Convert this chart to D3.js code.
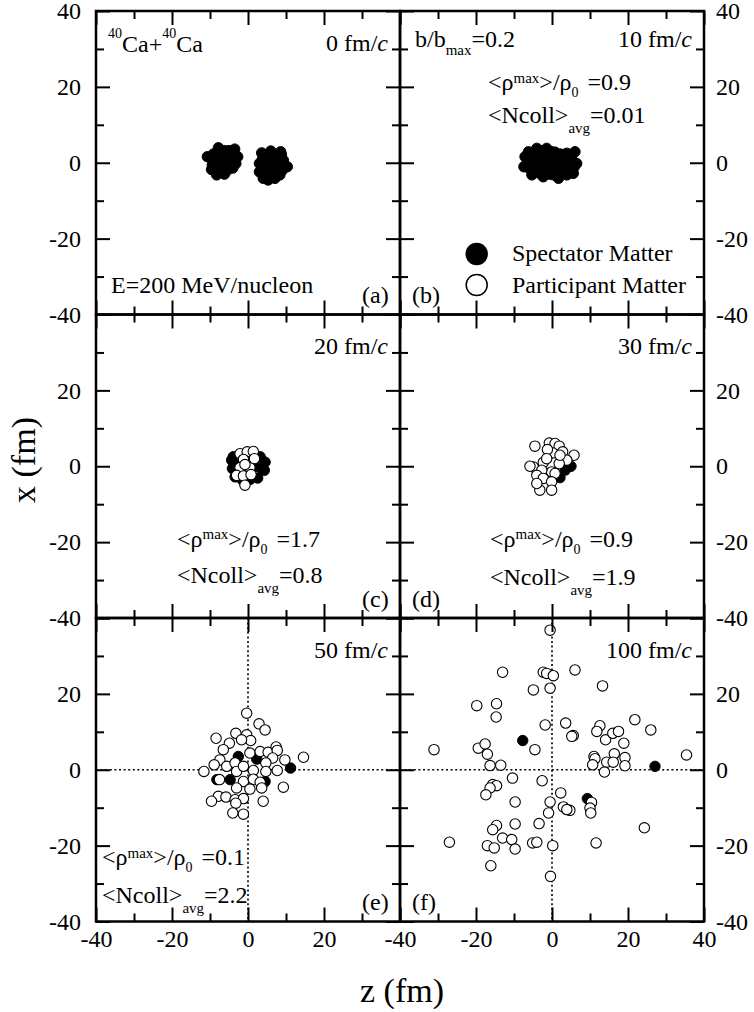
<!DOCTYPE html>
<html><head><meta charset="utf-8">
<script src="https://cdn.jsdelivr.net/npm/d3@7"></script>
<style>body{margin:0;background:#fff} svg{display:block} text{font-family:'Liberation Serif','Times New Roman',Times,serif}</style>
</head><body><svg id="chart" width="754" height="1012"></svg>
<script>
// ---------- data ----------
const majorTicks = [-40, -20, 0, 20, 40];
const minorTicks = [-30, -10, 10, 30];
const timeLabels = ["0", "10", "20", "30", "50", "100"];
const panelLetters = ["(a)", "(b)", "(c)", "(d)", "(e)", "(f)"];
const rhoValues = [null, "0.9", "1.7", "0.9", "0.1", null];
const ncollValues = [null, "0.01", "0.8", "1.9", "2.2", null];
const legendLabels = ["Spectator Matter", "Participant Matter"];

// [z, x] in fm
const specA = [[-10.7,1.6],[-2.7,1.6],[-7.8,3.95],[-3.5,3.6],[-8.25,-3.2],[-4.0,-1.4],[-5.4,-1.9],[-9.4,-0.6],[-9.1,2.3],[-6.7,1.4],[-5.6,-0.2],[-7.4,-0.6],[-4.7,0.7],[-8.2,0.7],[-6.5,-1.5],[-5.2,2.3],[-6.2,3.2],[-9.6,-1.8],[-7.0,-2.4],[-3.2,-0.2],[-8.7,-1.9],
  [-7.5,-1.2],[-5.8,1.0],[-4.2,-0.6],[-8.5,2.0],[-6.2,-3.0],[-3.8,2.4],[-9.0,0.3],[-5.0,3.2],
  [3.6,2.6],[6.0,3.1],[8.6,2.9],[10.35,-1.05],[9.3,0.7],[5.3,-4.55],[3.0,-2.4],[3.0,-0.2],[8.4,-3.2],[7.1,-4.1],[6.2,0.7],[7.5,-1.05],[4.9,-1.05],[6.6,-2.4],[4.9,1.2],[8.0,1.6],[4.0,-4.1],
  [5.8,-1.5],[7.6,0.2],[5.5,2.0],[9.0,-2.0],[3.8,1.0],[6.5,-3.5],[8.8,2.2],[4.2,-3.0]];
const partA = [];
const specB = [[-7.1,1.6],[-7.4,-1.05],[-5.3,-3.2],[-3.2,-2.8],[-1.4,3.8],[-4.0,3.8],[-6.2,2.9],[-0.1,2.9],[-3.2,0.7],[-4.9,-0.6],[-1.0,-1.05],[1.2,1.6],[2.1,-1.9],[1.7,-4.1],[3.9,-3.2],[5.6,-2.8],[6.5,-0.2],[6.05,2.9],[3.9,2.5],[3.4,-0.2],[0.35,-3.2],[-2.3,-3.7],[4.3,-1.05],[-2.5,2.0],[0.5,0.3],
  [-5.5,0.5],[-2.0,1.5],[-1.5,-2.0],[0.0,1.0],[1.5,-0.5],[2.5,1.0],[5.0,0.5],[4.5,-2.5],[-6.0,-1.5],[-4.5,2.0],[-2.8,3.2],[-0.8,-3.0],[2.8,-2.8],[5.2,1.8],[0.8,2.8],[-3.8,-1.8],[1.0,-2.2],[-0.5,-0.3],[-6.5,0.0],[-2.5,-0.8],[2.2,2.3],[5.8,-1.2]];
const partB = [];
const specC = [[-4.3,1.6],[-4.1,-0.6],[4.5,1.1],[4.3,-1.05],[2.55,-3.1],[-3.4,-2.8],[1.0,3.3],[3.2,2.5],[-3.9,2.5],[0.5,-3.5],[-1.5,-3.6],[2.0,0.0],[-2.0,0.5],[3.5,-0.5],[-3.0,0.3]];
const partC = [[-2.1,3.3],[-0.2,3.8],[1.4,3.9],[-1.2,1.8],[-2.1,-0.35],[0.5,-0.35],[-0.8,0.45],[-3.0,-2.4],[-1.2,-2.55],[0.8,-2.2],[-0.8,-5.0],[1.7,2.0]];
const specD = [[5.0,0.0],[2.1,-3.0],[3.5,-1.0]];
const partD = [[-4.5,5.3],[-0.7,6.1],[0.8,6.0],[1.9,5.3],[0.2,3.5],[2.8,3.8],[-1.2,4.4],[5.8,2.9],[3.9,1.6],[-2.3,1.0],[1.9,0.7],[-4.9,-0.2],[-5.8,0.0],[-0.1,-1.5],[-2.7,-1.05],[-4.0,-2.4],[-2.3,-3.2],[0.8,-1.9],[-0.1,-4.1],[-3.2,-6.3],[-0.1,-6.3],[-4.0,-4.55],[2.1,2.9],[-1.4,2.0]];
const specE = [[-2.55,3.5],[2.3,2.8],[11.2,0.45],[-4.7,-2.6],[-8.2,-2.6],[4.5,-3.1]];
const partE = [[-0.35,14.9],[2.9,12.1],[4.5,10.5],[-8.4,8.3],[-3.2,9.6],[-0.35,9.2],[0.7,7.7],[-1.7,7.9],[-4.9,7.0],[-6.5,5.3],[0.5,4.4],[3.2,4.8],[5.3,4.6],[7.4,6.0],[7.7,5.1],[6.5,3.1],[9.7,2.6],[14.6,3.3],[-7.4,2.6],[-8.9,1.3],[-11.6,-0.45],[-5.6,0.9],[-3.4,1.8],[-3.0,-0.45],[-1.2,0.9],[1.4,-0.2],[4.7,1.8],[4.7,-0.45],[7.7,-0.2],[-7.5,-2.6],[-1.2,-3.1],[1.4,-2.5],[3.2,-3.3],[3.6,-4.8],[0.5,-5.1],[-3.0,-4.8],[9.3,-4.6],[-7.8,-7.0],[-5.8,-7.2],[-9.6,-8.3],[-3.4,-7.9],[-1.2,-7.6],[-3.2,-8.8],[4.0,-8.3],[-4.0,-11.4],[-1.2,-11.7]];
const specF = [[-7.7,7.7],[27.1,0.9],[9.3,-7.6]];
const partF = [[-0.5,36.8],[-13,25.7],[-2.3,25.7],[-1.4,25.4],[0.35,24.8],[6.05,26.3],[-4.9,21.05],[-0.5,21.5],[13.3,22.1],[-19.8,16.9],[-14.6,17.4],[-14.7,13.9],[-1.8,11.8],[3.6,12.3],[5.6,9.0],[5.2,8.8],[12.6,11.6],[11.8,10.1],[14.1,7.9],[16.0,9.6],[17.5,10.1],[21.8,13.2],[26.0,10.5],[18.9,7.0],[16.4,4.2],[19.2,3.2],[11.05,3.5],[11.3,2.9],[10.7,1.3],[14.4,2.0],[16.1,2.0],[19.2,1.05],[13.8,-0.6],[35.4,3.9],[-31.05,5.3],[-19.4,5.7],[-17.6,6.8],[-17.0,4.1],[-16.3,1.1],[-13.5,1.2],[-4.5,5.3],[-10.4,-2.2],[-2.6,-2.9],[-15.6,-3.9],[-14.6,-4.2],[-16.3,-4.8],[-17.4,-6.6],[-9.7,-8.5],[2.3,-6.1],[-0.5,-8.5],[3.0,-9.8],[4.7,-10.7],[3.9,-10.5],[-0.9,-11.4],[10.4,-8.6],[10.0,-10.1],[10.2,-11.4],[-9.7,-14.3],[-14.6,-14.7],[-15.6,-15.8],[-3.4,-14.2],[24.3,-15.3],[-27.0,-19.1],[-13.0,-18.0],[-10.6,-18.4],[-17.0,-20.0],[-15.2,-20.6],[-9.7,-20.9],[-5.1,-19.3],[-4.0,-19.1],[0.2,-20.0],[11.6,-19.3],[-16.1,-25.3],[-0.4,-28.1]];
const spectators = [specA, specB, specC, specD, specE, specF];
const participants = [partA, partB, partC, partD, partE, partF];

// ---------- layout ----------
const FONT = "'Liberation Serif','Times New Roman',Times,serif";
const colX = [96, 400], rowY = [11, 314.5, 618], W = 304, H = 303.5;
const svg = d3.select("#chart").attr("font-family", FONT);
const zs = d3.scaleLinear().domain([-40, 40]).range([0, W]);
const xs = d3.scaleLinear().domain([-40, 40]).range([H, 0]);
const R = 5.2;

function txt(g) {
  return g.append("text").attr("font-family", FONT).style("font-family", FONT).attr("fill", "#000");
}
function rich(g, x, y, parts, anchor) {
  const t = txt(g).attr("x", x).attr("y", y)
    .attr("text-anchor", anchor || "start").attr("font-size", 24);
  let cur = 0;
  parts.forEach(p => {
    const sp = t.append("tspan").text(p.t);
    const s = p.s || 0;
    sp.attr("dy", s - cur); cur = s;
    if (p.fs) sp.attr("font-size", p.fs);
    if (p.i) sp.attr("font-style", "italic");
    if (p.dx) sp.attr("dx", p.dx);
  });
  return t;
}
function styleAxis(sel, w) {
  sel.select(".domain").remove();
  sel.attr("font-family", FONT);
  sel.selectAll(".tick line").attr("stroke", "#000").attr("stroke-width", w);
  sel.selectAll("text").attr("font-family", FONT).style("font-family", FONT).attr("font-size", 24).attr("fill", "#000");
}
const fmt = d => String(d);

for (let i = 0; i < 6; i++) {
  const c = i % 2, r = Math.floor(i / 2);
  const g = svg.append("g").attr("transform", `translate(${colX[c]},${rowY[r]})`);

  // dotted reference lines for late times
  if (i >= 4) {
    g.append("line").attr("x1", zs(0)).attr("x2", zs(0)).attr("y1", 0).attr("y2", H)
      .attr("stroke", "#000").attr("stroke-width", 1.6).attr("stroke-dasharray", "2,2.6");
    g.append("line").attr("x1", 0).attr("x2", W).attr("y1", xs(0)).attr("y2", xs(0))
      .attr("stroke", "#000").attr("stroke-width", 1.6).attr("stroke-dasharray", "2,2.6");
  }

  // points: spectators below, participants above
  g.append("g").selectAll("circle").data(spectators[i]).join("circle")
    .attr("cx", d => zs(d[0])).attr("cy", d => xs(d[1])).attr("r", R)
    .attr("fill", "#000").attr("stroke", "#000").attr("stroke-width", 1);
  g.append("g").selectAll("circle").data(participants[i]).join("circle")
    .attr("cx", d => zs(d[0])).attr("cy", d => xs(d[1])).attr("r", R)
    .attr("fill", "#fff").attr("stroke", "#000").attr("stroke-width", 1.1);

  // ticks (inward) on all four sides
  [[d3.axisBottom(zs), `translate(0,${H})`], [d3.axisTop(zs), "translate(0,0)"],
   [d3.axisLeft(xs), "translate(0,0)"], [d3.axisRight(xs), `translate(${W},0)`]].forEach(([ax, tr]) => {
    const a1 = g.append("g").attr("transform", tr)
      .call(ax.tickValues(majorTicks).tickSize(-14).tickSizeOuter(0).tickFormat(""));
    styleAxis(a1, 2);
    const a2 = g.append("g").attr("transform", tr)
      .call(ax.tickValues(minorTicks).tickSize(-8).tickSizeOuter(0).tickFormat(""));
    styleAxis(a2, 2);
  });

  // tick labels
  const yVals = r === 0 ? majorTicks : majorTicks.filter(v => v !== 40);
  if (c === 0) {
    const al = g.append("g").call(d3.axisLeft(xs).tickValues(yVals).tickSize(0).tickPadding(15).tickFormat(fmt));
    styleAxis(al, 0);
  } else {
    const ar = g.append("g").attr("transform", `translate(${W},0)`)
      .call(d3.axisRight(xs).tickValues(yVals).tickSize(0).tickPadding(12).tickFormat(fmt));
    styleAxis(ar, 0);
  }
  if (r === 2) {
    const zVals = c === 0 ? majorTicks.filter(v => v !== 40) : majorTicks;
    const ab = g.append("g").attr("transform", `translate(0,${H})`)
      .call(d3.axisBottom(zs).tickValues(zVals).tickSize(0).tickPadding(8.5).tickFormat(fmt));
    styleAxis(ab, 0);
  }

  // frame
  g.append("rect").attr("x", 0).attr("y", 0).attr("width", W).attr("height", H)
    .attr("fill", "none").attr("stroke", "#000").attr("stroke-width", 2.5);

  // time label
  const tY = (i === 1) ? 35.7 : 39.8;
  rich(g, W - 12, tY, [{ t: timeLabels[i] + " fm/" }, { t: "c", i: true }], "end");
  // panel letter
  txt(g).attr("x", c === 0 ? W - 38 : 12).attr("y", H - 11.5)
    .attr("font-size", 24).text(panelLetters[i]);
}

// panel-specific annotations (absolute positions)
rich(svg, 108, 51.5, [{ t: "40", fs: 14, s: -13.3 }, { t: "Ca+", s: 0 }, { t: "40", fs: 14, s: -13.3 }, { t: "Ca", s: 0 }]);
rich(svg, 111, 292.7, [{ t: "E=200 MeV/nucleon" }]);
rich(svg, 415, 46.5, [{ t: "b/b" }, { t: "max", fs: 15, s: 8.5 }, { t: "=0.2", s: 0 }]);

const rhoPos = [null, [488, 90], [177, 546.7], [490, 546.7], [102, 865], null];
const ncPos = [null, [488, 123], [177, 583.3], [490, 585], [102, 903], null];
for (let i = 0; i < 6; i++) {
  if (rhoValues[i] !== null) {
    rich(svg, rhoPos[i][0], rhoPos[i][1], [{ t: "<ρ" }, { t: "max", fs: 15, s: -7.5 },
      { t: ">/ρ", s: 0 }, { t: "0", fs: 14, s: 7 }, { t: " =" + rhoValues[i], s: 0, dx: 3 }]);
  }
  if (ncollValues[i] !== null) {
    rich(svg, ncPos[i][0], ncPos[i][1], [{ t: "<Ncoll>" }, { t: "avg", fs: 15, s: 10 }, { t: "=" + ncollValues[i], s: 0 }]);
  }
}

// legend in panel (b)
svg.append("circle").attr("cx", 476.7).attr("cy", 254).attr("r", 11.2).attr("fill", "#000");
svg.append("circle").attr("cx", 476.7).attr("cy", 285).attr("r", 10.5).attr("fill", "#fff")
  .attr("stroke", "#000").attr("stroke-width", 1.5);
rich(svg, 512, 260.7, [{ t: legendLabels[0] }]);
rich(svg, 512, 292.7, [{ t: legendLabels[1] }]);

// axis titles
txt(svg).attr("transform", "translate(35,460) rotate(-90)").attr("text-anchor", "middle")
  .attr("font-size", 34).text("x (fm)");
txt(svg).attr("x", 402).attr("y", 1002).attr("text-anchor", "middle")
  .attr("font-size", 34).text("z (fm)");
</script></body></html>
